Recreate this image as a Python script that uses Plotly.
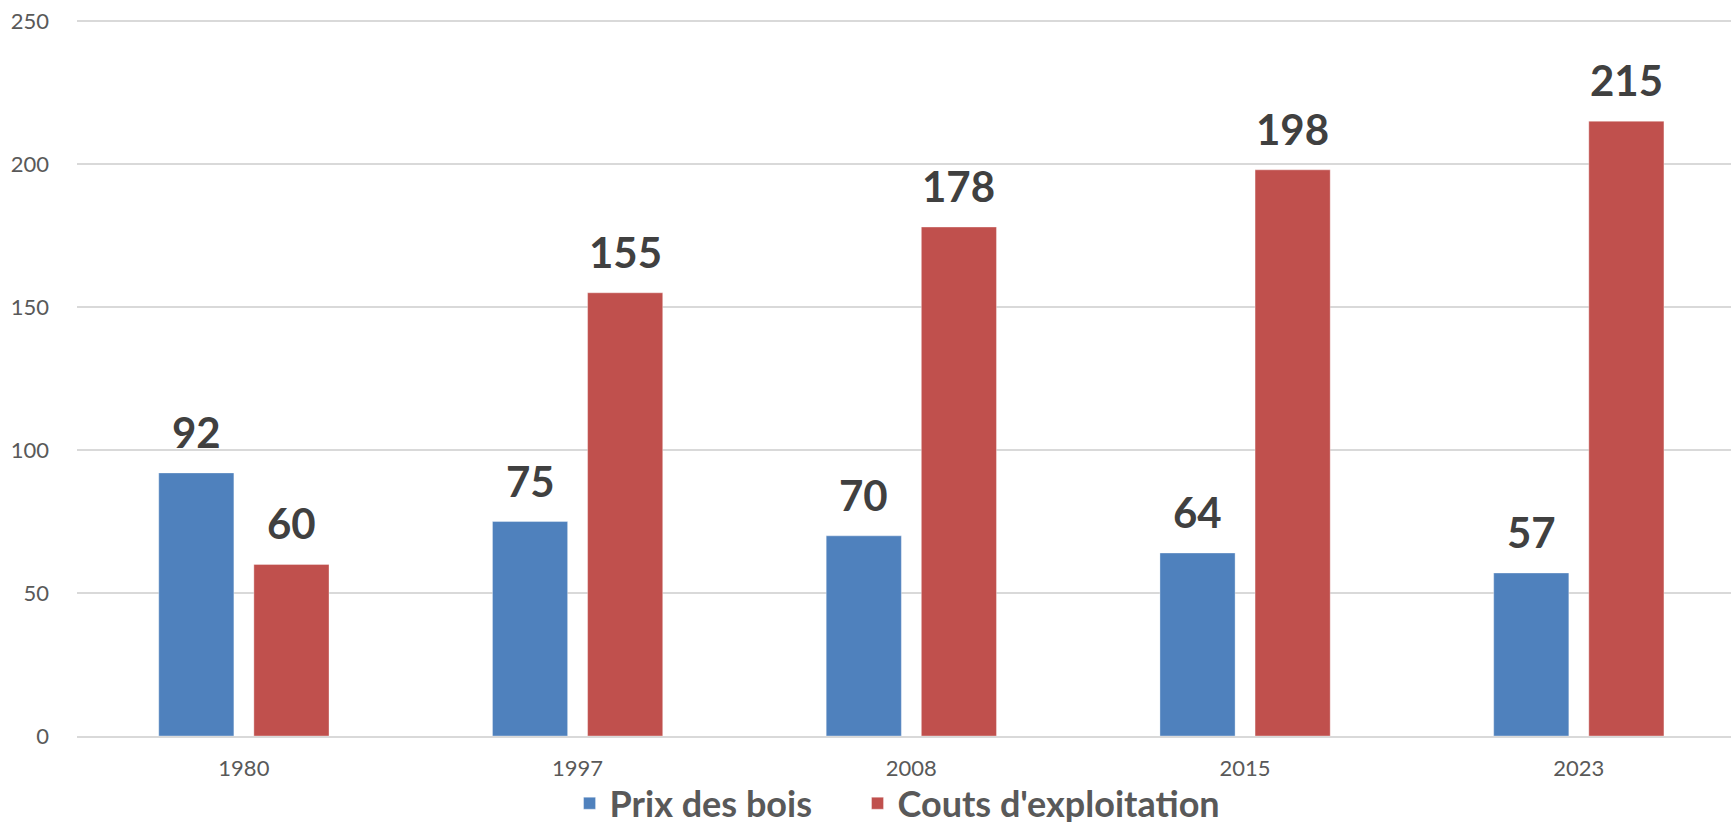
import plotly.graph_objects as go

# Donnees
annees = ["1980", "1997", "2008", "2015", "2023"]
prix_bois = [92, 75, 70, 64, 57]
couts_exploitation = [60, 155, 178, 198, 215]
y_ticks = [0, 50, 100, 150, 200, 250]

BLEU = "#4F81BD"
ROUGE = "#C0504D"
GRIS_TXT = "#595959"
GRIS_LABEL = "#404040"

fig = go.Figure()
fig.add_trace(go.Bar(
    x=annees, y=prix_bois, name="Prix des bois",
    legend="legend", showlegend=True,
    marker=dict(color=BLEU, line=dict(color="rgba(255,255,255,0.35)", width=1)),
))
fig.add_trace(go.Bar(
    x=annees, y=couts_exploitation, name="Couts d'exploitation",
    legend="legend2", showlegend=True,
    marker=dict(color=ROUGE, line=dict(color="rgba(255,255,255,0.35)", width=1)),
))

# Etiquettes de valeurs au-dessus des barres
# (x = numero de categorie : "1980" serait lu comme un index numerique)
annotations = []
for serie, decalage in ((prix_bois, -47.5), (couts_exploitation, 47.5)):
    for i, val in enumerate(serie):
        annotations.append(dict(
            x=i, y=val, xref="x", yref="y", text=f"<b>{val}</b>",
            showarrow=False, xshift=decalage, yshift=14, yanchor="bottom",
            font=dict(family="Lato", size=42, color=GRIS_LABEL),
        ))

# Deux legendes separees pour reproduire l'espacement des entrees
legende = dict(
    orientation="h", xanchor="left", y=-0.094, yanchor="middle",
    bgcolor="rgba(0,0,0,0)", visible=True,
    font=dict(family="Lato", size=36, color=GRIS_TXT, weight="bold"),
)

fig.update_layout(
    width=1731, height=822, showlegend=True,
    paper_bgcolor="white", plot_bgcolor="white",
    margin=dict(l=77, r=0, t=20, b=86, autoexpand=False),
    barmode="group", bargap=0.43, bargroupgap=0.21,
    font=dict(family="Lato", color=GRIS_TXT),
    annotations=annotations,
    xaxis=dict(
        type="category", range=[-0.5, 4.456], showgrid=False, showline=True,
        linecolor="#d9d9d9", linewidth=2, ticks="",
        tickfont=dict(size=22, color=GRIS_TXT), ticklabelstandoff=12,
    ),
    yaxis=dict(
        range=[0, 250.4], tickvals=y_ticks, showgrid=True,
        gridcolor="#d9d9d9", gridwidth=2, zeroline=False, showline=False,
        tickfont=dict(size=22, color=GRIS_TXT), ticklabelstandoff=27,
    ),
    legend=dict(legende, x=0.2978),
    legend2=dict(legende, x=0.4719),
)

fig.write_html("out.html", config={"displayModeBar": False},
               post_script="document.body.style.margin='0';")
